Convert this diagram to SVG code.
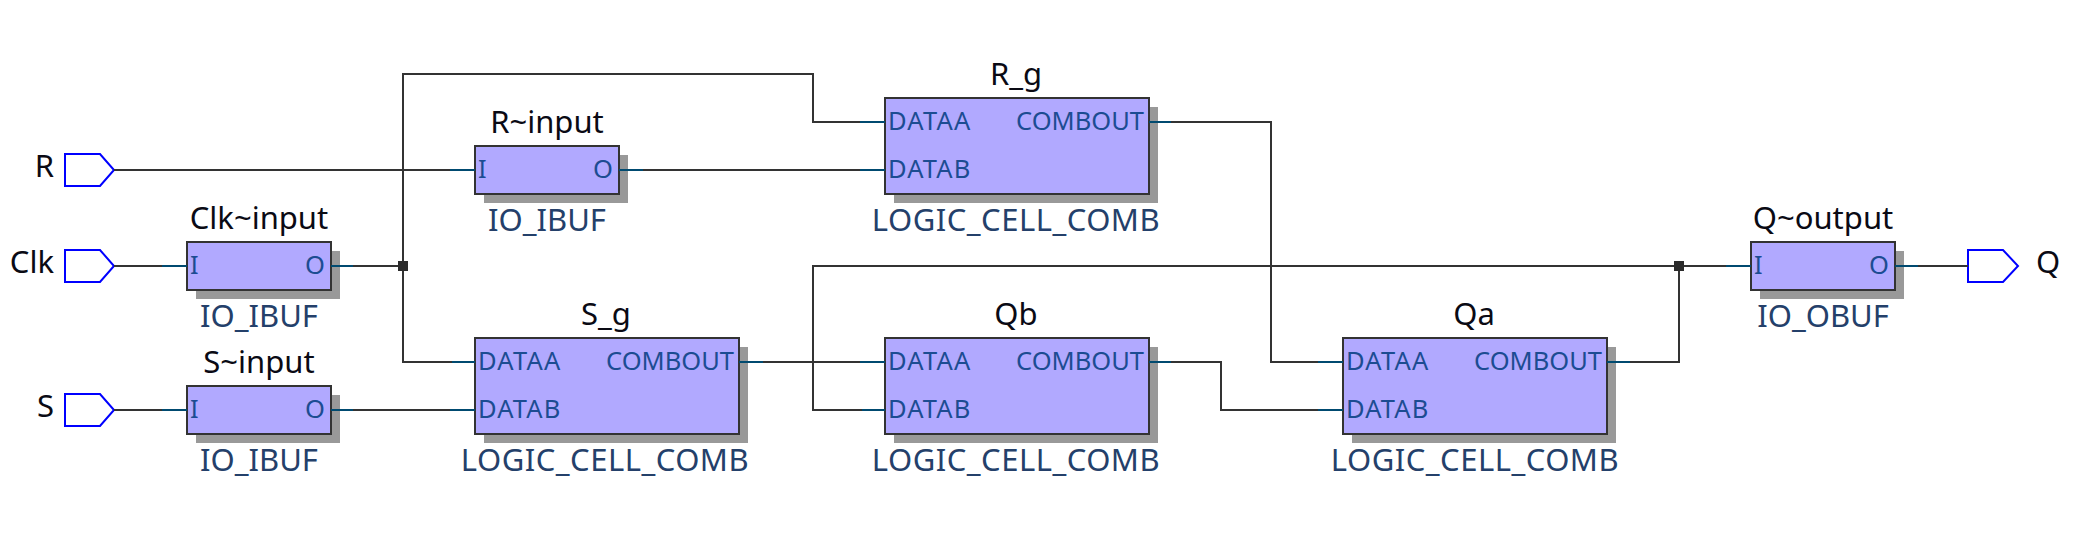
<svg xmlns="http://www.w3.org/2000/svg" width="2083" height="546" viewBox="0 0 2083 546">
<defs><style>
text{font-family:"Noto Sans","Open Sans","Liberation Sans",sans-serif}
.shadow{fill:#999999}
.box{fill:#b1a9ff;stroke:#333333;stroke-width:2}
.name{font-size:31px;fill:#0a0a14;text-anchor:middle}
.type{font-size:31px;fill:#24406a;text-anchor:middle}
.wide{letter-spacing:.5px}
.port{font-size:25.5px;fill:#1c4c92}
.da{letter-spacing:1.2px}
.db{letter-spacing:1.1px}
.pin{fill:#ffffff;stroke:#0000ff;stroke-width:2}
.pinlabel{font-size:31px;fill:#0a0a14}
.wire{fill:none;stroke:#333333;stroke-width:2}
.stub{fill:none;stroke:#004a70;stroke-width:2}
.dot{fill:#2b2b2b}
</style></defs>
<rect width="2083" height="546" fill="#ffffff"/>
<g id="pin-R"><path class="pin" d="M65 154H100L114 170L100 186H65Z"/><text class="pinlabel" x="54" y="177" text-anchor="end">R</text></g>
<g id="pin-Clk"><path class="pin" d="M65 250H100L114 266L100 282H65Z"/><text class="pinlabel" x="54" y="273" text-anchor="end">Clk</text></g>
<g id="pin-S"><path class="pin" d="M65 394H100L114 410L100 426H65Z"/><text class="pinlabel" x="54" y="417" text-anchor="end">S</text></g>
<g id="pin-Q"><path class="pin" d="M1968 250H2003L2018 266L2003 282H1968Z"/><text class="pinlabel" x="2036" y="273">Q</text></g>

<g id="R-input"><rect class="shadow" x="484" y="155" width="144" height="48"/><rect class="box" x="475" y="146" width="144" height="48"/>
<text class="name" x="547" y="133">R~input</text><text class="type" x="547" y="231">IO_IBUF</text>
<text class="port" x="478" y="178">I</text><text class="port" x="613" y="178" text-anchor="end">O</text></g>

<g id="Clk-input"><rect class="shadow" x="196" y="251" width="144" height="48"/><rect class="box" x="187" y="242" width="144" height="48"/>
<text class="name" x="259" y="229">Clk~input</text><text class="type" x="259" y="327">IO_IBUF</text>
<text class="port" x="190" y="274">I</text><text class="port" x="325" y="274" text-anchor="end">O</text></g>

<g id="S-input"><rect class="shadow" x="196" y="395" width="144" height="48"/><rect class="box" x="187" y="386" width="144" height="48"/>
<text class="name" x="259" y="373">S~input</text><text class="type" x="259" y="471">IO_IBUF</text>
<text class="port" x="190" y="418">I</text><text class="port" x="325" y="418" text-anchor="end">O</text></g>

<g id="Q-output"><rect class="shadow" x="1760" y="251" width="144" height="48"/><rect class="box" x="1751" y="242" width="144" height="48"/>
<text class="name" x="1823" y="229">Q~output</text><text class="type" x="1823" y="327">IO_OBUF</text>
<text class="port" x="1754" y="274">I</text><text class="port" x="1889" y="274" text-anchor="end">O</text></g>

<g id="R_g"><rect class="shadow" x="894" y="107" width="264" height="96"/><rect class="box" x="885" y="98" width="264" height="96"/>
<text class="name" x="1016" y="85">R_g</text><text class="type wide" x="1016" y="231">LOGIC_CELL_COMB</text>
<text class="port da" x="888" y="130">DATAA</text><text class="port db" x="888" y="178">DATAB</text><text class="port" x="1144" y="130" text-anchor="end">COMBOUT</text></g>

<g id="S_g"><rect class="shadow" x="484" y="347" width="264" height="96"/><rect class="box" x="475" y="338" width="264" height="96"/>
<text class="name" x="606" y="325">S_g</text><text class="type wide" x="605" y="471">LOGIC_CELL_COMB</text>
<text class="port da" x="478" y="370">DATAA</text><text class="port db" x="478" y="418">DATAB</text><text class="port" x="734" y="370" text-anchor="end">COMBOUT</text></g>

<g id="Qb"><rect class="shadow" x="894" y="347" width="264" height="96"/><rect class="box" x="885" y="338" width="264" height="96"/>
<text class="name" x="1016" y="325">Qb</text><text class="type wide" x="1016" y="471">LOGIC_CELL_COMB</text>
<text class="port da" x="888" y="370">DATAA</text><text class="port db" x="888" y="418">DATAB</text><text class="port" x="1144" y="370" text-anchor="end">COMBOUT</text></g>

<g id="Qa"><rect class="shadow" x="1352" y="347" width="264" height="96"/><rect class="box" x="1343" y="338" width="264" height="96"/>
<text class="name" x="1474" y="325">Qa</text><text class="type wide" x="1475" y="471">LOGIC_CELL_COMB</text>
<text class="port da" x="1346" y="370">DATAA</text><text class="port db" x="1346" y="418">DATAB</text><text class="port" x="1602" y="370" text-anchor="end">COMBOUT</text></g>

<g id="connectors">
<path class="wire" d="M114 170H475"/>
<path class="wire" d="M114 266H187"/>
<path class="wire" d="M114 410H187"/>
<path class="wire" d="M331 266H403"/>
<path class="wire" d="M403 266V74H813V122H885"/>
<path class="wire" d="M403 266V362H475"/>
<path class="wire" d="M331 410H475"/>
<path class="wire" d="M619 170H885"/>
<path class="wire" d="M739 362H885"/>
<path class="wire" d="M1149 122H1271V362H1343"/>
<path class="wire" d="M1149 362H1221V410H1343"/>
<path class="wire" d="M1607 362H1679V266"/>
<path class="wire" d="M1751 266H813V410H885"/>
<path class="wire" d="M1895 266H1968"/>
<path class="stub" d="M162 266H187M162 410H187M450 170H475M452 362H475M450 410H475M860 122H885M860 170H885M860 362H885M862 410H885M1318 362H1343M1318 410H1343M1726 266H1751"/>
<path class="stub" d="M331 266H353M331 410H353M619 170H643M739 362H763M1149 122H1171M1149 362H1171M1607 362H1630M1895 266H1918"/>
<rect class="dot" x="398" y="261" width="10" height="10"/>
<rect class="dot" x="1674" y="261" width="10" height="10"/>
</g>
</svg>
